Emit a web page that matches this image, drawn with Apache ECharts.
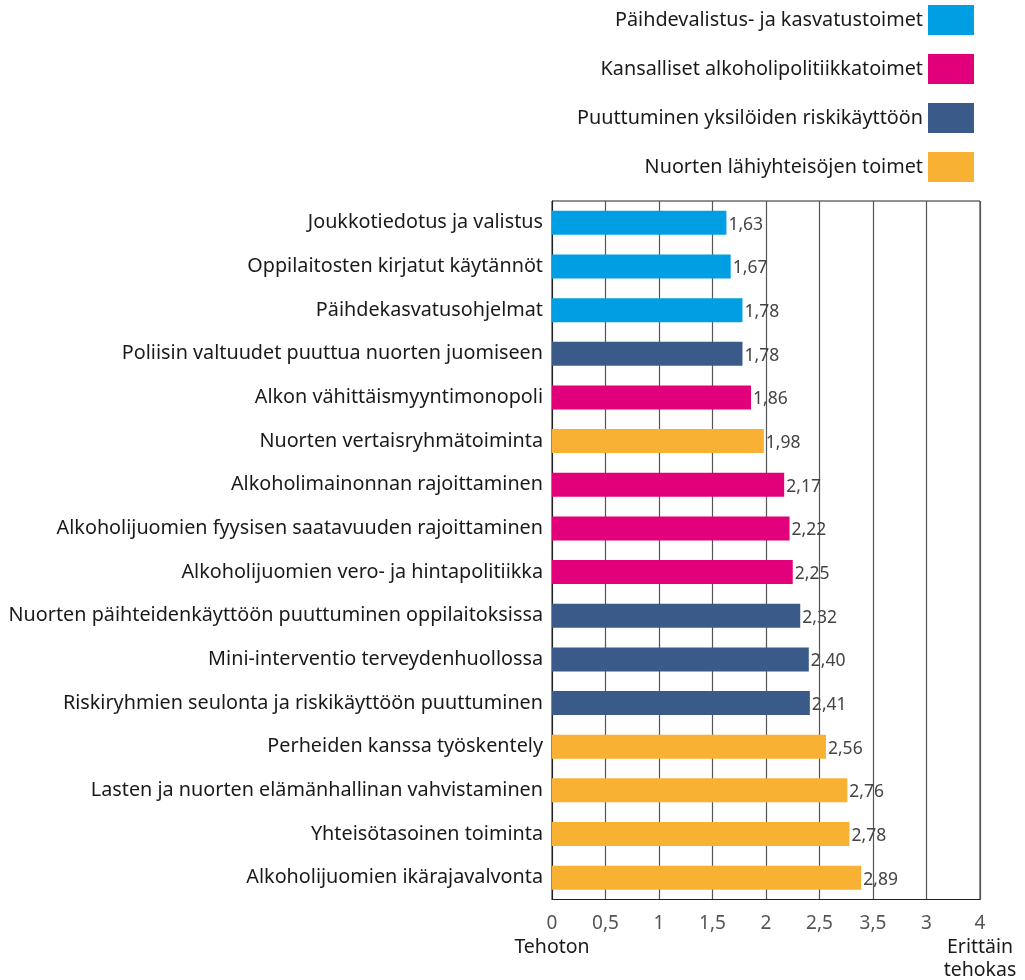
<!DOCTYPE html>
<html>
<head>
<meta charset="utf-8">
<script src="https://cdn.jsdelivr.net/npm/echarts@6/dist/echarts.min.js"></script>
<style>html,body{margin:0;padding:0;background:#fff}#c{width:1025px;height:980px}</style>
</head>
<body>
<div id="c"></div>
<script>
var categories = [
  'Joukkotiedotus ja valistus',
  'Oppilaitosten kirjatut käytännöt',
  'Päihdekasvatusohjelmat',
  'Poliisin valtuudet puuttua nuorten juomiseen',
  'Alkon vähittäismyyntimonopoli',
  'Nuorten vertaisryhmätoiminta',
  'Alkoholimainonnan rajoittaminen',
  'Alkoholijuomien fyysisen saatavuuden rajoittaminen',
  'Alkoholijuomien vero- ja hintapolitiikka',
  'Nuorten päihteidenkäyttöön puuttuminen oppilaitoksissa',
  'Mini-interventio terveydenhuollossa',
  'Riskiryhmien seulonta ja riskikäyttöön puuttuminen',
  'Perheiden kanssa työskentely',
  'Lasten ja nuorten elämänhallinan vahvistaminen',
  'Yhteisötasoinen toiminta',
  'Alkoholijuomien ikärajavalvonta'
];
var values = [1.63, 1.67, 1.78, 1.78, 1.86, 1.98, 2.17, 2.22, 2.25, 2.32, 2.40, 2.41, 2.56, 2.76, 2.78, 2.89];
// group index per category: 0 = Päihdevalistus, 1 = Kansalliset, 2 = Puuttuminen, 3 = Nuorten lähiyhteisöjen
var groups = [0, 0, 0, 2, 1, 3, 1, 1, 1, 2, 2, 2, 3, 3, 3, 3];
var groupNames = [
  'Päihdevalistus- ja kasvatustoimet',
  'Kansalliset alkoholipolitiikkatoimet',
  'Puuttuminen yksilöiden riskikäyttöön',
  'Nuorten lähiyhteisöjen toimet'
];
var groupColors = ['#009FE3', '#E2007A', '#3A5A8A', '#F8B133'];
var tickValues = [0, 0.5, 1, 1.5, 2, 2.5, 3, 3.5, 4];
var tickLabels = ['0', '0,5', '1', '1,5', '2', '2,5', '3,5', '3', '4'];
var endLabels = { '0': 'Tehoton', '4': 'Erittäin\ntehokas' };

var FONT = 'Noto Sans';
var series = groupNames.map(function (name, g) {
  return {
    name: name,
    type: 'bar',
    stack: 'all',
    barCategoryGap: '45%',
    itemStyle: { color: groupColors[g] },
    label: {
      show: true,
      position: 'right',
      distance: 2,
      offset: [0, 2],
      color: '#444',
      fontSize: 17.5,
      fontFamily: FONT,
      formatter: function (p) { return p.value.toFixed(2).replace('.', ','); }
    },
    data: values.map(function (v, i) { return groups[i] === g ? v : '-'; })
  };
});

var chart = echarts.init(document.getElementById('c'));
chart.setOption({
  animation: false,
  textStyle: { fontFamily: FONT },
  legend: {
    orient: 'vertical',
    right: 51,
    top: 5,
    padding: 0,
    align: 'right',
    itemWidth: 46,
    itemHeight: 30,
    itemGap: 19,
    icon: 'rect',
    textStyle: { fontSize: 19.8, color: '#1a1a1a', fontFamily: FONT, padding: [4, 0, 0, 0] },
    data: groupNames
  },
  grid: {
    left: 552, right: 45, top: 201, bottom: 72,
    show: true, borderColor: '#222', borderWidth: 1
  },
  xAxis: {
    type: 'value',
    min: 0, max: 4, interval: 0.5,
    axisLine: { show: true, lineStyle: { color: '#222' } },
    axisTick: { show: false },
    splitLine: { show: true, lineStyle: { color: '#555', width: 1.2 } },
    axisLabel: {
      margin: 12,
      fontFamily: FONT,
      formatter: function (v) {
        var idx = tickValues.indexOf(v);
        var t = idx >= 0 ? tickLabels[idx] : '';
        var e = endLabels[String(v)];
        if (e) {
          return '{n|' + t + '}\n' + e.split('\n').map(function (s) { return '{e|' + s + '}'; }).join('\n');
        }
        return '{n|' + t + '}';
      },
      rich: {
        n: { fontSize: 19, color: '#555', lineHeight: 24, fontFamily: FONT },
        e: { fontSize: 19.5, color: '#1a1a1a', lineHeight: 23, fontFamily: FONT }
      }
    }
  },
  yAxis: {
    type: 'category',
    inverse: true,
    data: categories,
    axisLine: { show: true, lineStyle: { color: '#222' } },
    axisTick: { show: false },
    axisLabel: { fontSize: 19.8, color: '#1a1a1a', margin: 9, fontFamily: FONT, padding: [4, 0, 0, 0] }
  },
  series: series
});
</script>
</body>
</html>
